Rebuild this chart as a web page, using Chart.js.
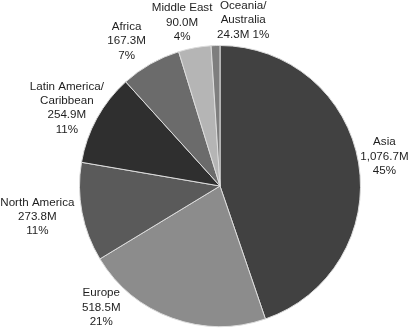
<!DOCTYPE html>
<html>
<head>
<meta charset="utf-8">
<script src="https://cdn.jsdelivr.net/npm/chart.js@4"></script>
<style>
html,body{margin:0;padding:0;background:#fff;}
#wrap{width:409px;height:331px;}
</style>
</head>
<body>
<div id="wrap"><canvas id="c" width="409" height="331"></canvas></div>
<script>
const categories = ["Asia", "Europe", "North America", "Latin America/\nCaribbean", "Africa", "Middle East", "Oceania/\nAustralia"];
const valuesM = [1076.7, 518.5, 273.8, 254.9, 167.3, 90.0, 24.3];
const percentLabels = ["45%", "21%", "11%", "11%", "7%", "4%", "1%"];
const inlinePercent = [false, false, false, false, false, false, true];
const colors = ["#414141", "#8c8c8c", "#5a5a5a", "#2f2f2f", "#6b6b6b", "#b5b5b5", "#7e7e7e"];

// label block centre relative to pie centre, in units of the pie radius
const labelAnchors = [
  [1.17, -0.21], [-0.845, 0.865], [-1.30, 0.22], [-1.09, -0.555],
  [-0.665, -1.03], [-0.27, -1.165], [0.165, -1.18]
];

function linesFor(i) {
  const lines = categories[i].split("\n");
  const v = valuesM[i].toLocaleString("en-US", {minimumFractionDigits: 1, maximumFractionDigits: 1}) + "M";
  if (inlinePercent[i]) { lines.push(v + " " + percentLabels[i]); }
  else { lines.push(v); lines.push(percentLabels[i]); }
  return lines;
}

const labelPlugin = {
  id: "sliceLabels",
  afterDraw(chart) {
    const ctx = chart.ctx;
    const arc = chart.getDatasetMeta(0).data[0];
    const cx = arc.x, cy = arc.y, r = arc.outerRadius;
    const lh = 14.3;
    ctx.save();
    ctx.font = "11.6px 'Liberation Sans', Arial, sans-serif";
    ctx.fillStyle = "#1e1e1e";
    ctx.textAlign = "center";
    ctx.textBaseline = "middle";
    categories.forEach((c, i) => {
      const lines = linesFor(i);
      const bx = cx + labelAnchors[i][0] * r;
      const by = cy + labelAnchors[i][1] * r;
      const top = by - (lines.length - 1) * lh / 2;
      lines.forEach((t, k) => ctx.fillText(t, bx, top + k * lh));
    });
    ctx.restore();
  }
};

new Chart(document.getElementById("c"), {
  type: "pie",
  data: {
    labels: categories,
    datasets: [{
      data: valuesM,
      backgroundColor: colors,
      borderColor: "#dcdcdc",
      borderWidth: 1
    }]
  },
  options: {
    responsive: false,
    animation: false,
    layout: { padding: { top: 45, bottom: 4, left: 31, right: 0 } },
    plugins: { legend: { display: false }, tooltip: { enabled: false } }
  },
  plugins: [labelPlugin]
});
</script>
</body>
</html>
